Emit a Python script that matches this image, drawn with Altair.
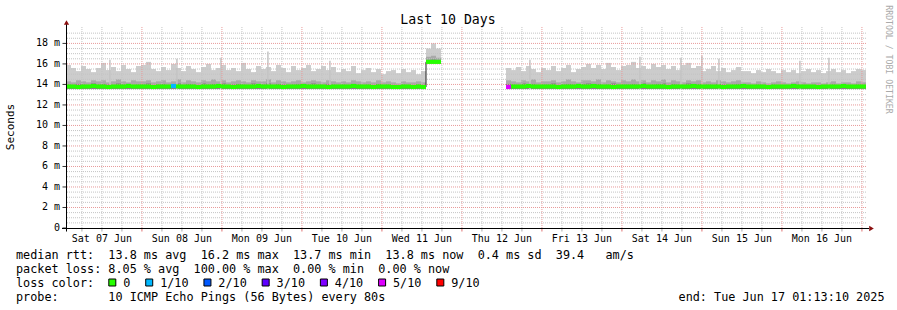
import altair as alt
import pandas as pd

# ---------------- data ----------------
STEP_H = 1.5            # consolidated step (hours)
START_H = 1.22          # Jun 07 01:13:10, hours after Jun 07 00:00
END_H = 241.22          # Jun 17 01:13:10

seg_start_h = [1.22, 109.22, 133.22]
seg_group = ["a", "a", "b"]
seg_min = [13.55, 16.05, 13.55]   # lowest ping of the smoke per segment (ms)

seg1_light = [15.9, 15.6, 15.3, 15.8, 15.5, 15.2, 15.6,
              16.1, 15.4, 15.7, 15.3, 15.9, 15.5, 15.2, 15.8,
              15.9, 16.2, 15.5, 15.3, 15.7, 15.4, 16.0, 15.6,
              15.3, 15.8, 15.5, 15.2, 15.7, 16.0, 15.4, 15.6,
              15.9, 15.4, 15.6, 15.3, 16.1, 15.5, 15.2, 15.8,
              15.5, 15.7, 15.3, 15.9, 15.6, 15.2, 15.8, 15.4,
              15.6, 15.9, 15.3, 15.5, 15.8, 15.4, 15.7, 15.2,
              15.5, 15.3, 15.8, 15.1, 15.4, 15.6, 15.2, 15.5,
              15.0, 15.3, 15.4, 15.1, 15.5, 15.2, 15.4, 15.0, 15.3]
seg1_mid = [14.3, 14.2, 14.4, 14.3, 14.2, 14.4, 14.3,
            14.4, 14.2, 14.3, 14.5, 14.3, 14.2, 14.4, 14.3,
            14.3, 14.4, 14.2, 14.3, 14.4, 14.2, 14.3, 14.5,
            14.2, 14.4, 14.3, 14.2, 14.4, 14.3, 14.5, 14.3,
            14.4, 14.2, 14.3, 14.4, 14.3, 14.2, 14.4, 14.3,
            14.3, 14.5, 14.2, 14.4, 14.3, 14.2, 14.3, 14.4,
            14.2, 14.3, 14.4, 14.3, 14.2, 14.4, 14.3, 14.2,
            14.3, 14.2, 14.4, 14.3, 14.2, 14.3, 14.2, 14.4,
            14.2, 14.3, 14.2, 14.1, 14.3, 14.2, 14.2, 14.3, 14.2]
seg1_dark = [14.0, 13.95, 14.05, 14.0, 13.95, 14.1, 14.0,
             14.05, 14.0, 13.95, 14.1, 14.0, 14.05, 13.95, 14.0,
             14.0, 14.1, 13.95, 14.0, 14.05, 13.95, 14.0, 14.1,
             13.95, 14.05, 14.0, 13.95, 14.1, 14.0, 14.05, 14.0,
             14.1, 13.95, 14.0, 14.05, 14.0, 13.95, 14.1, 14.0,
             14.0, 14.1, 13.95, 14.05, 14.0, 13.95, 14.0, 14.05,
             13.95, 14.0, 14.1, 14.0, 13.95, 14.05, 14.0, 13.95,
             14.0, 13.95, 14.05, 14.0, 13.95, 14.0, 13.95, 14.05,
             13.95, 14.0, 13.95, 13.9, 14.0, 13.95, 13.95, 14.0, 13.95]
seg1_med = [13.8, 13.8, 13.75, 13.8, 13.8, 13.85, 13.8,
            13.8, 13.75, 13.8, 13.8, 13.8, 13.85, 13.8, 13.8,
            13.8, 13.8, 13.75, 13.8, 13.8, 13.8, 13.85, 13.8,
            13.8, 13.8, 13.8, 13.75, 13.8, 13.8, 13.8, 13.85,
            13.8, 13.8, 13.75, 13.8, 13.8, 13.8, 13.8, 13.85,
            13.8, 13.8, 13.8, 13.8, 13.75, 13.8, 13.8, 13.8,
            13.85, 13.8, 13.8, 13.8, 13.8, 13.75, 13.8, 13.8,
            13.8, 13.8, 13.85, 13.8, 13.8, 13.8, 13.75, 13.8,
            13.8, 13.8, 13.75, 13.75, 13.8, 13.8, 13.75, 13.8, 13.75]
seg1_loss = ("0000000" "00000000" "00000010" "00000000" "00000000"
             "00000000" "00000000" "00000000" "000000000")

seg2_light = [17.5, 18.0, 17.5]
seg2_mid = [16.7, 16.8, 16.6]
seg2_dark = [16.4, 16.45, 16.4]
seg2_med = [16.2, 16.2, 16.2]
seg2_loss = "000"

seg3_light = [15.6, 15.4, 15.7, 15.3, 15.8, 15.5, 15.2, 15.6,
              15.4, 15.8, 15.3, 15.6, 15.9, 15.2, 15.5, 15.7,
              16.0, 15.6, 15.9, 15.5, 16.1, 15.7, 15.4, 15.8,
              15.9, 16.2, 15.6, 15.8, 15.5, 16.0, 15.7, 15.9,
              15.5, 15.8, 15.4, 15.9, 16.1, 15.6, 15.8, 15.3,
              15.5, 15.8, 15.3, 15.6, 15.2, 15.4, 15.7, 15.3,
              15.3, 15.1, 15.4, 15.2, 15.5, 15.3, 15.1, 15.4,
              15.2, 15.4, 15.1, 15.3, 15.5, 15.2, 15.4, 15.1,
              15.3, 15.5, 15.2, 15.4, 15.1, 15.3, 15.5, 15.4]
seg3_mid = [14.4, 14.3, 14.2, 14.4, 14.3, 14.5, 14.2, 14.3,
            14.3, 14.4, 14.2, 14.3, 14.5, 14.3, 14.2, 14.4,
            14.4, 14.3, 14.5, 14.2, 14.4, 14.3, 14.2, 14.4,
            14.3, 14.5, 14.3, 14.4, 14.2, 14.4, 14.3, 14.5,
            14.2, 14.4, 14.3, 14.2, 14.4, 14.3, 14.4, 14.2,
            14.3, 14.2, 14.4, 14.3, 14.2, 14.3, 14.4, 14.2,
            14.2, 14.1, 14.3, 14.2, 14.1, 14.2, 14.3, 14.2,
            14.1, 14.2, 14.3, 14.2, 14.1, 14.2, 14.2, 14.1,
            14.2, 14.3, 14.1, 14.2, 14.2, 14.1, 14.3, 14.2]
seg3_dark = [14.05, 14.0, 13.95, 14.1, 14.0, 14.05, 13.95, 14.0,
             14.0, 14.1, 13.95, 14.0, 14.05, 14.0, 13.95, 14.05,
             14.1, 14.0, 14.05, 13.95, 14.0, 14.1, 13.95, 14.0,
             14.0, 14.05, 14.0, 14.1, 13.95, 14.0, 14.05, 14.1,
             13.95, 14.05, 14.0, 13.95, 14.1, 14.0, 14.05, 13.95,
             14.0, 13.95, 14.05, 14.0, 13.95, 14.0, 14.05, 13.95,
             13.95, 13.9, 14.0, 13.95, 13.9, 14.0, 13.95, 13.9,
             13.9, 13.95, 14.0, 13.95, 13.9, 13.95, 13.95, 13.9,
             13.95, 14.0, 13.9, 13.95, 13.95, 13.9, 14.0, 13.95]
seg3_med = [13.75, 13.8, 13.8, 13.8, 13.85, 13.8, 13.8, 13.8,
            13.8, 13.8, 13.75, 13.8, 13.8, 13.8, 13.85, 13.8,
            13.8, 13.85, 13.8, 13.8, 13.8, 13.75, 13.8, 13.8,
            13.8, 13.8, 13.8, 13.85, 13.8, 13.8, 13.8, 13.8,
            13.75, 13.8, 13.8, 13.8, 13.8, 13.85, 13.8, 13.8,
            13.8, 13.8, 13.8, 13.75, 13.8, 13.8, 13.8, 13.85,
            13.8, 13.8, 13.8, 13.8, 13.75, 13.8, 13.8, 13.8,
            13.8, 13.85, 13.8, 13.8, 13.8, 13.8, 13.75, 13.8,
            13.8, 13.8, 13.8, 13.85, 13.8, 13.8, 13.8, 13.8]
seg3_loss = ("50000000" "00000000" "00000000" "00000000" "00000000"
             "00000000" "00000000" "00000000" "00000000")

# isolated single-sample peaks of the smoke
spike_t = [14.4, 34.5, 47.7, 61.8, 80.4, 140.4, 173.4, 185.7, 192.0, 197.1, 221.4, 230.1]
spike_v = [16.4, 16.5, 16.6, 17.2, 16.3, 16.4, 16.7, 16.6, 16.8, 16.5, 16.3, 16.6]

loss_digit_names = {"0": "0", "1": "1/10", "2": "2/10", "3": "3/10",
                    "4": "4/10", "5": "5/10", "9": "9/10"}
legend_loss = ["0", "1/10", "2/10", "3/10", "4/10", "5/10", "9/10"]
legend_color = ["#26ff00", "#00b8ff", "#0059ff", "#5e00ff", "#7e00ff", "#dd00ff", "#ff0000"]

day_labels = ["Sat 07 Jun", "Sun 08 Jun", "Mon 09 Jun", "Tue 10 Jun", "Wed 11 Jun",
              "Thu 12 Jun", "Fri 13 Jun", "Sat 14 Jun", "Sun 15 Jun", "Mon 16 Jun"]
y_ticks = [0, 2, 4, 6, 8, 10, 12, 14, 16, 18]
y_tick_labels = ["0", "2 m", "4 m", "6 m", "8 m", "10 m", "12 m", "14 m", "16 m", "18 m"]

title_text = "Last 10 Days"
y_title = "Seconds"
credit = "RRDTOOL / TOBI OETIKER"
stats_line = "median rtt:  13.8 ms avg  16.2 ms max  13.7 ms min  13.8 ms now  0.4 ms sd  39.4   am/s"
loss_line = "packet loss: 8.05 % avg  100.00 % max  0.00 % min  0.00 % now"
loss_title = "loss color:"
probe_line = "probe:       10 ICMP Echo Pings (56 Bytes) every 80s"
end_line = "end: Tue Jun 17 01:13:10 2025"

# ---------------- build tables ----------------
segs = [
    (seg1_light, seg1_mid, seg1_dark, seg1_med, seg1_loss),
    (seg2_light, seg2_mid, seg2_dark, seg2_med, seg2_loss),
    (seg3_light, seg3_mid, seg3_dark, seg3_med, seg3_loss),
]
rows = []
for start, grp, lo, (lt, md, dk, me, ls) in zip(seg_start_h, seg_group, seg_min, segs):
    for i in range(len(lt)):
        t = start + i * STEP_H
        rows.append(dict(t=t, t2=t + STEP_H, lo=lo, light=lt[i], mid=md[i], dark=dk[i],
                         med=me[i], loss=loss_digit_names[ls[i]], grp=grp))
df = pd.DataFrame(rows)
df["band_lo"] = df["med"] - 0.2
df["band_hi"] = df["med"] + 0.2

line_rows = []
for grp in ["a", "b"]:
    sub = df[df.grp == grp]
    for _, r in sub.iterrows():
        line_rows.append(dict(t=r.t, med=r.med, grp=grp))
    last = sub.iloc[-1]
    line_rows.append(dict(t=last.t2, med=last.med, grp=grp))
df_line = pd.DataFrame(line_rows)

df_spikes = pd.DataFrame({"t": spike_t, "v": spike_v})
df_spikes["lo"] = seg_min[0]

h_minor = [i * 0.5 for i in range(1, 39) if i % 4]
h_major = [v for v in y_ticks if v > 0]
v_minor = [h for h in range(6, 241, 6) if h % 24]
v_major = list(range(24, 241, 24))
noons = [12 + 24 * k for k in range(len(day_labels))]

# ---------------- scales / styling ----------------
W, H = 800, 201
PAD_L, PAD_T = 66, 27
xs = alt.Scale(domain=[START_H, END_H], nice=False, zero=False)
ys = alt.Scale(domain=[0, 19.6], nice=False, zero=False)
MONO = "DejaVu Sans Mono"
GRID_MINOR = "#c4c4c4"
GRID_MAJOR = "#e89a9a"
ARROW = "#8b1010"


def nb(s):
    return s.replace(" ", "\u00a0")


def px(x):
    return x - PAD_L


def py(y):
    return y - PAD_T


base = alt.Chart(df)
X = alt.X("t:Q", scale=xs, axis=None)

light = base.mark_rect(color="#cccccc").encode(
    x=X, x2="t2:Q", y=alt.Y("lo:Q", scale=ys, axis=None), y2="light:Q")
mid = base.mark_rect(color="#a9a9a9").encode(
    x=X, x2="t2:Q", y=alt.Y("lo:Q", scale=ys, axis=None), y2="mid:Q")
dark = base.mark_rect(color="#858585").encode(
    x=X, x2="t2:Q", y=alt.Y("lo:Q", scale=ys, axis=None), y2="dark:Q")
spikes = alt.Chart(df_spikes).mark_rule(color="#c4c4c4", strokeWidth=1.5).encode(
    x=X, y=alt.Y("lo:Q", scale=ys, axis=None), y2="v:Q")

g_hmin = alt.Chart(pd.DataFrame({"v": h_minor})).mark_rule(
    color=GRID_MINOR, strokeDash=[1, 1], strokeWidth=1).encode(
    y=alt.Y("v:Q", scale=ys, axis=None))
g_vmin = alt.Chart(pd.DataFrame({"h": v_minor})).mark_rule(
    color=GRID_MINOR, strokeDash=[1, 1], strokeWidth=1).encode(
    x=alt.X("h:Q", scale=xs, axis=None))
g_hmaj = alt.Chart(pd.DataFrame({"v": h_major})).mark_rule(
    color=GRID_MAJOR, strokeDash=[1, 1], strokeWidth=1).encode(
    y=alt.Y("v:Q", scale=ys, axis=None))
g_vmaj = alt.Chart(pd.DataFrame({"h": v_major})).mark_rule(
    color=GRID_MAJOR, strokeDash=[1, 1], strokeWidth=1).encode(
    x=alt.X("h:Q", scale=xs, axis=None))

med_line = alt.Chart(df_line).mark_line(
    color="#202020", strokeWidth=1, interpolate="step-after").encode(
    x=X, y=alt.Y("med:Q", scale=ys, axis=None), detail="grp:N")
band = base.mark_rect().encode(
    x=X, x2="t2:Q", y=alt.Y("band_lo:Q", scale=ys, axis=None), y2="band_hi:Q",
    color=alt.Color("loss:N", scale=alt.Scale(domain=legend_loss, range=legend_color),
                    legend=None))

# axis tick marks and tick labels
tk_min = alt.Chart(pd.DataFrame({"h": v_minor})).mark_rule(color="#aaaaaa").encode(
    x=alt.X("h:Q", scale=xs, axis=None), y=alt.value(H + 1), y2=alt.value(H + 3.5))
tk_maj = alt.Chart(pd.DataFrame({"h": v_major})).mark_rule(color="#e07070").encode(
    x=alt.X("h:Q", scale=xs, axis=None), y=alt.value(H + 1), y2=alt.value(H + 3.5))
x_labels = alt.Chart(pd.DataFrame({"h": noons, "lab": day_labels})).mark_text(
    font=MONO, fontSize=10, color="black", align="center", baseline="alphabetic").encode(
    x=alt.X("h:Q", scale=xs, axis=None), y=alt.value(H + 13.5), text="lab:N")
df_yt = pd.DataFrame({"v": y_ticks, "lab": [nb(s) for s in y_tick_labels]})
y_tk = alt.Chart(df_yt).mark_rule(color="#333333").encode(
    y=alt.Y("v:Q", scale=ys, axis=None), x=alt.value(-3.5), x2=alt.value(0))
y_labels = alt.Chart(df_yt).mark_text(
    font=MONO, fontSize=10, color="black", align="right", baseline="middle").encode(
    y=alt.Y("v:Q", scale=ys, axis=None), x=alt.value(-6), text="lab:N")

one = pd.DataFrame({"k": [0]})
yaxis_line = alt.Chart(one).mark_rule(color="black", strokeWidth=1).encode(
    x=alt.value(0.5), y=alt.value(-4), y2=alt.value(H + 3.5))
xaxis_line = alt.Chart(one).mark_rule(color="black", strokeWidth=1).encode(
    x=alt.value(-4), x2=alt.value(W + 3), y=alt.value(H + 0.5))
arrow_up = alt.Chart(one).mark_point(shape="triangle-up", filled=True, size=28,
                                     color=ARROW, opacity=1).encode(
    x=alt.value(0.5), y=alt.value(-4.5))
arrow_right = alt.Chart(one).mark_point(shape="triangle-right", filled=True, size=28,
                                        color=ARROW, opacity=1).encode(
    x=alt.value(W + 5.5), y=alt.value(H + 0.5))


def text_layer(s, x, y, size, align="left", angle=0, color="black", baseline="alphabetic"):
    return alt.Chart(pd.DataFrame({"s": [nb(s)]})).mark_text(
        align=align, baseline=baseline, font=MONO, fontSize=size, color=color,
        angle=angle).encode(text="s:N", x=alt.value(x), y=alt.value(y))


CW = 7.1   # character advance of the legend font
LEG_FS = 11.8
texts = [
    text_layer(title_text, px(448), py(24), 13.2, align="center"),
    text_layer(y_title, px(11), py(127), 11, align="center", angle=270, baseline="middle"),
    text_layer(credit, px(888), py(59.5), 8.2, align="center", angle=90,
               color="#aaaaaa", baseline="middle"),
    text_layer(stats_line, px(16), py(259), LEG_FS),
    text_layer(loss_line, px(16), py(273), LEG_FS),
    text_layer(loss_title, px(16), py(287), LEG_FS),
    text_layer(probe_line, px(16), py(300.7), LEG_FS),
    text_layer(end_line, px(884.5), py(300.7), LEG_FS, align="right"),
]

swatches = []
col = 13.0
for lab, colr in zip(legend_loss, legend_color):
    left = 16 + col * CW
    swatches.append(
        alt.Chart(pd.DataFrame({"s": [lab]})).mark_square(
            size=49, filled=True, color=colr, stroke="black", strokeWidth=1, opacity=1
        ).encode(x=alt.value(px(left + 4)), y=alt.value(py(282.5))))
    lab_col = col + 2.1
    swatches.append(text_layer(lab, px(16 + lab_col * CW), py(287), LEG_FS))
    col = lab_col + len(lab) + 2.1

chart = alt.layer(
    light, mid, dark, spikes,
    g_hmin, g_vmin, g_hmaj, g_vmaj,
    med_line, band,
    tk_min, tk_maj, x_labels, y_tk, y_labels,
    yaxis_line, xaxis_line, arrow_up, arrow_right,
    *texts, *swatches,
).properties(
    width=W, height=H,
    padding={"left": PAD_L, "top": PAD_T, "right": 897 - PAD_L - W, "bottom": 310 - PAD_T - H},
    autosize=alt.AutoSizeParams(type="none"),
    background="white",
).configure_view(stroke=None)

chart.save("out.html", embed_options={"renderer": "svg", "actions": False})
